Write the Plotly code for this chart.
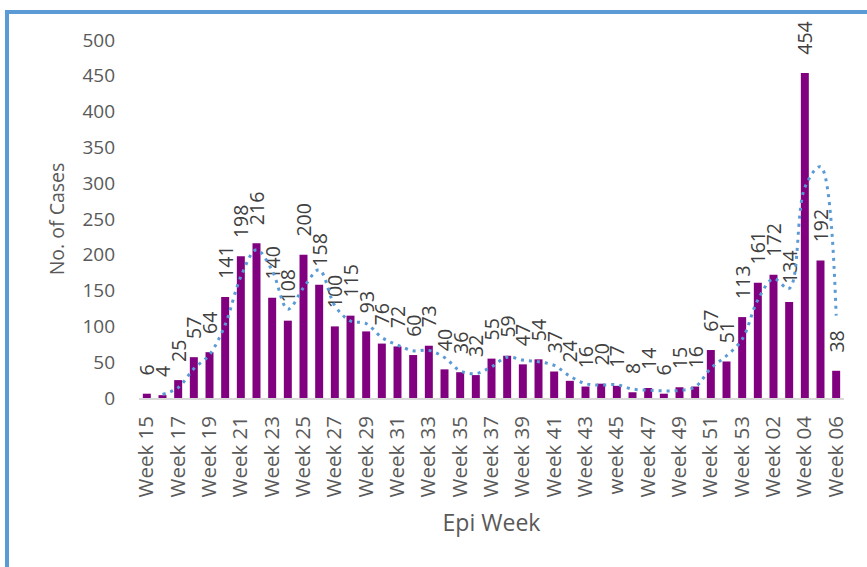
import plotly.graph_objects as go

weeks = ["Week 15", "Week 16", "Week 17", "Week 18", "Week 19", "Week 20", "Week 21", "Week 22",
         "Week 23", "Week 24", "Week 25", "Week 26", "Week 27", "Week 28", "Week 29", "Week 30",
         "Week 31", "Week 32", "Week 33", "Week 34", "Week 35", "Week 36", "Week 37", "Week 38",
         "Week 39", "Week 40", "Week 41", "Week 42", "Week 43", "Week 44", "week 45", "Week 46",
         "Week 47", "Week 48", "Week 49", "Week 50", "Week 51", "Week 52", "Week 53", "Week 01",
         "Week 02", "Week 03", "Week 04", "Week 05", "Week 06"]
cases = [6, 4, 25, 57, 64, 141, 198, 216, 140, 108, 200, 158, 100, 115, 93, 76, 72, 60, 73,
         40, 36, 32, 55, 59, 47, 54, 37, 24, 16, 20, 17, 8, 14, 6, 15, 16, 67, 51, 113, 161,
         172, 134, 454, 192, 38]
y_ticks = [0, 50, 100, 150, 200, 250, 300, 350, 400, 450, 500]

# 2-period moving average trendline (as in the Excel chart)
trend_x = weeks[1:]
trend_y = [(cases[i - 1] + cases[i]) / 2 for i in range(1, len(cases))]

FONT = "Open Sans"
fig = go.Figure()
fig.add_trace(go.Bar(
    x=weeks, y=cases,
    marker=dict(color="#800080", line=dict(width=0)),
    text=["\u00a0\u00a0\u00a0" + str(v) for v in cases],
    textposition="outside", textangle=-90,
    textfont=dict(family=FONT, size=19.5, color="#404040"),
    constraintext="none", cliponaxis=False,
    showlegend=False, hoverinfo="skip",
))
fig.add_trace(go.Scatter(
    x=trend_x, y=trend_y, mode="lines",
    line=dict(color="#5B9BD5", width=3, dash="3px,5px", shape="spline", smoothing=1),
    showlegend=False, cliponaxis=False, hoverinfo="skip",
))

L, R, T, B = 139, 23, 40, 169
W, H = 867, 567
pw, ph = W - L - R, H - T - B

def px(x):
    return (x - L) / pw

def py(y):
    return (H - B - y) / ph

fig.update_layout(
    width=W, height=H,
    margin=dict(l=L, r=R, t=T, b=B),
    paper_bgcolor="white", plot_bgcolor="white",
    bargap=0.49,
    font=dict(family=FONT, size=18, color="#595959"),
    xaxis=dict(
        type="category",
        tickmode="array", tickvals=weeks[::2], ticktext=weeks[::2],
        tickangle=-90, tickfont=dict(size=20.5, color="#595959"),
        showgrid=False, showline=True, linecolor="#D9D9D9", linewidth=1.5,
        ticks="", zeroline=False, ticklabelstandoff=8,
        title=dict(text="Epi Week", font=dict(size=23, color="#595959"), standoff=18),
    ),
    yaxis=dict(
        range=[0, 500], tickmode="array", tickvals=y_ticks,
        tickfont=dict(size=19, color="#595959"),
        showgrid=False, showline=False, zeroline=False, ticks="",
        ticklabelstandoff=23,
        title=dict(text="No. of Cases", font=dict(size=19.5, color="#595959"), standoff=12),
    ),
    shapes=[dict(
        type="rect", xref="paper", yref="paper",
        x0=px(7), x1=px(890), y0=py(12), y1=py(600),
        line=dict(color="#5B9BD5", width=4), fillcolor="rgba(0,0,0,0)", layer="above",
    )],
)

fig.write_html("out.html", config={"displayModeBar": False},
               post_script="document.body.style.margin='0';")
